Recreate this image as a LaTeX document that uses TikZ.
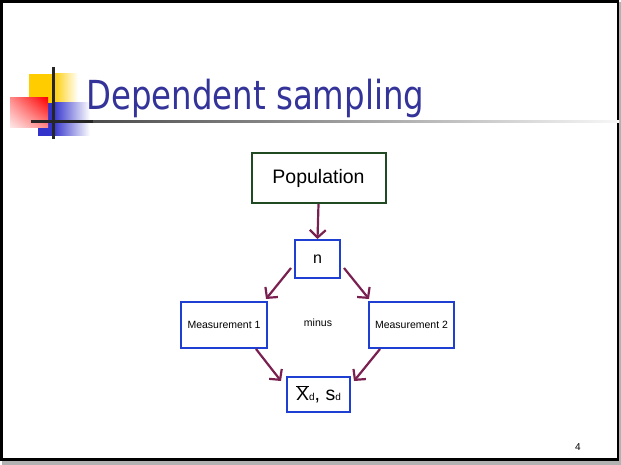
\documentclass[tikz,border=0pt]{standalone}
\usepackage{fontspec}
\setmainfont{Liberation Sans}
\newfontfamily\titlefont[FakeStretch=0.81]{DejaVu Sans}
\usetikzlibrary{arrows.meta,shadings}

\definecolor{titleblue}{HTML}{333399}
\definecolor{arrowred}{HTML}{7A2050}
\definecolor{boxblue}{HTML}{1E3FD2}
\definecolor{boxgreen}{HTML}{1F4A22}
\definecolor{logoyellow}{HTML}{FFCC00}
\definecolor{logoblue}{HTML}{3333CC}

\tikzset{
  bluebox/.style={draw=boxblue, line width=2pt, inner sep=0pt},
  greenbox/.style={draw=boxgreen, line width=2pt, inner sep=0pt},
  arr/.style={draw=arrowred, line width=2.2pt, -{Straight Barb[length=7.5pt,width=16pt]}},
}

\begin{document}
\begin{tikzpicture}[x=1pt,y=-1pt]
    \useasboundingbox (0,0) rectangle (621,465);
    % Slide frame with shadow
    \fill[black!30] (619,2) rectangle (621,465);
    \fill[black!30] (2,461) rectangle (621,465);
    \draw[line width=2.7pt] (1.35,1.35) rectangle (618,459.7);
    % Logo squares
    \fill[logoyellow] (29,74) rectangle (53,103);
    \shade[left color=logoyellow, right color=white] (53,74) rectangle (78,103);
    \fill[logoblue] (38,103) rectangle (53,136);
    \shade[left color=logoblue, right color=white] (53,103) rectangle (90,136);
    \shade[upper right=red, lower left=red!8, upper left=red!45, lower right=red!45] (10,98) rectangle (48,128);
    \draw[line width=3pt, black!85] (53,67) -- (53,139);
    \draw[line width=3pt, black!85] (31,122) -- (93,122);
    \shade[left color=black!70, right color=black!3] (93,121) rectangle (619,123);
    % Title
    \node[anchor=base west, inner sep=0pt, text=titleblue, font=\titlefont\fontsize{40}{40}\selectfont] (title) at (86,110) {Dependent sampling};
    % Boxes
    \node[greenbox, minimum width=134pt, minimum height=50pt, font=\fontsize{19.5}{20}\selectfont] (pop) at (318.5,178) {Population};
    \node[bluebox, minimum width=45pt, minimum height=38pt, font=\fontsize{16}{16}\selectfont] (n) at (317.5,259) {n};
    \node[bluebox, minimum width=86pt, minimum height=46pt, font=\fontsize{10.5}{11}\selectfont] (m1) at (224,325) {Measurement 1};
    \node[bluebox, minimum width=85pt, minimum height=46pt, font=\fontsize{10.5}{11}\selectfont] (m2) at (411.5,325) {Measurement 2};
    \node[font=\fontsize{10.5}{11}\selectfont, inner sep=0pt] (minus) at (318,323) {minus};
    \node[bluebox, minimum width=63pt, minimum height=35pt, font=\fontsize{19.5}{20}\selectfont] (xd) at (318.5,394.5)
        {$\overline{\hbox{X}}$\hbox{\fontsize{10}{10}\selectfont d}, s\hbox{\fontsize{10}{10}\selectfont d}};
    % Arrows
    \draw[arr] (pop.south) -- (n.north);
    \draw[arr] ([xshift=-3pt,yshift=11pt]n.south west) -- ([xshift=-2pt,yshift=2pt]m1.north east);
    \draw[arr] ([xshift=3pt,yshift=11pt]n.south east) -- ([xshift=1pt,yshift=2pt]m2.north west);
    \draw[arr] ([xshift=-12pt]m1.south east) -- ([xshift=-5pt,yshift=-5pt]xd.north west);
    \draw[arr] ([xshift=12pt]m2.south west) -- ([xshift=3pt,yshift=-5pt]xd.north east);
    % Page number
    \node[font=\fontsize{10}{10}\selectfont, inner sep=0pt] (pagenum) at (578,447) {4};
\end{tikzpicture}
\end{document}
